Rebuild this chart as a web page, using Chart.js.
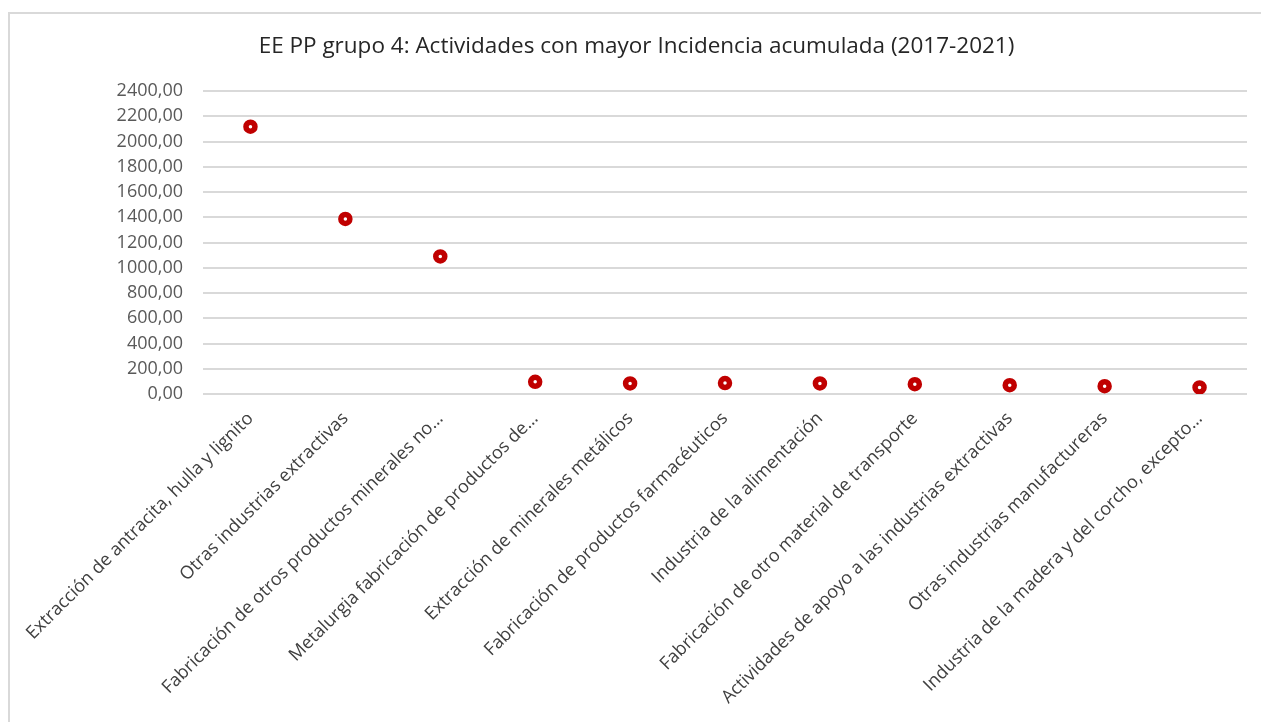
<!DOCTYPE html>
<html lang="es">
<head>
    <meta charset="UTF-8">
    <title>EE PP grupo 4</title>
    <script src="https://cdn.jsdelivr.net/npm/chart.js"></script>
    <style>
        body {
            margin: 0;
            background: #fff;
            overflow: hidden;
        }
        .frame {
            position: absolute;
            left: 8px;
            top: 12px;
            width: 1400px;
            height: 800px;
            border-top: 2px solid #d9d9d9;
            border-left: 2px solid #d9d9d9;
        }
        .chart-box {
            position: absolute;
            left: 0;
            top: 0;
            width: 1261px;
            height: 722px;
        }
    </style>
</head>
<body>
    <div class="frame"></div>
    <div class="chart-box">
        <canvas id="incChart"></canvas>
    </div>

    <script>
        const actividades = [
            'Extracción de antracita, hulla y lignito',
            'Otras industrias extractivas',
            'Fabricación de otros productos minerales no…',
            'Metalurgia fabricación de productos de…',
            'Extracción de minerales metálicos',
            'Fabricación de productos farmacéuticos',
            'Industria de la alimentación',
            'Fabricación de otro material de transporte',
            'Actividades de apoyo a las industrias extractivas',
            'Otras industrias manufactureras',
            'Industria de la madera y del corcho, excepto…'
        ];
        const incidencia = [2117, 1387, 1090, 97, 84, 87, 84, 78, 70, 62, 52];
        const yTicks = [0, 200, 400, 600, 800, 1000, 1200, 1400, 1600, 1800, 2000, 2200, 2400];

        const FONT = "'Open Sans', 'Noto Sans', sans-serif";

        const ctx = document.getElementById('incChart').getContext('2d');
        new Chart(ctx, {
            type: 'line',
            data: {
                labels: actividades,
                datasets: [{
                    label: 'Incidencia acumulada',
                    data: incidencia,
                    showLine: false,
                    pointStyle: 'circle',
                    pointRadius: 4.5,
                    pointBorderWidth: 5.5,
                    pointBackgroundColor: '#ffffff',
                    pointBorderColor: '#c00000',
                    pointHoverRadius: 4.5
                }]
            },
            options: {
                responsive: true,
                maintainAspectRatio: false,
                animation: false,
                // left padding only nudges the title; the y axis width keeps the plot at x=203
                layout: { padding: { left: 26, right: 14 } },
                plugins: {
                    legend: { display: false },
                    tooltip: { enabled: false },
                    title: {
                        display: true,
                        text: 'EE PP grupo 4: Actividades con mayor Incidencia acumulada (2017-2021)',
                        color: '#262626',
                        font: { family: FONT, size: 22.5, weight: 'normal' },
                        padding: { top: 33, bottom: 31 }
                    }
                },
                scales: {
                    x: {
                        offset: true,
                        grid: { display: false },
                        border: { display: false },
                        ticks: {
                            autoSkip: false,
                            minRotation: 45,
                            maxRotation: 45,
                            padding: 6,
                            color: '#404040',
                            font: { family: FONT, size: 18 }
                        },
                        afterFit: (scale) => { scale.height = 328; }
                    },
                    y: {
                        min: 0,
                        max: 2400,
                        afterBuildTicks: (scale) => {
                            scale.ticks = yTicks.map(v => ({ value: v }));
                        },
                        grid: {
                            color: '#d9d9d9',
                            lineWidth: 2,
                            drawTicks: false
                        },
                        border: { display: false },
                        ticks: {
                            padding: 20,
                            color: '#595959',
                            font: { family: FONT, size: 18 },
                            callback: (v) => v.toFixed(2).replace('.', ',')
                        },
                        afterFit: (scale) => { scale.width = 177; }
                    }
                }
            }
        });
    </script>
</body>
</html>
